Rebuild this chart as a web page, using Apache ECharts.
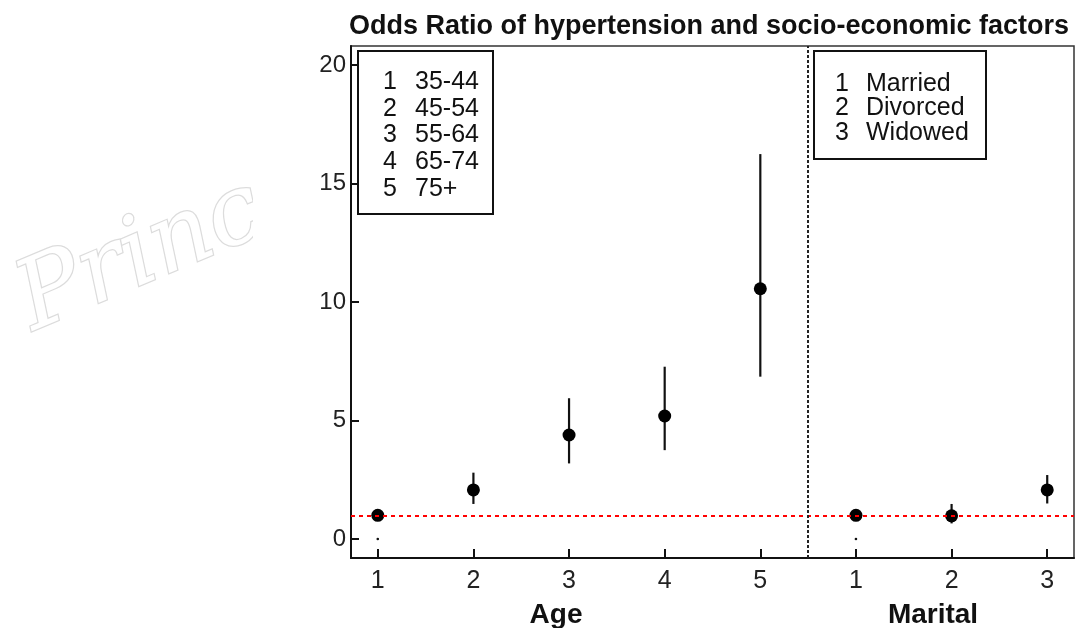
<!DOCTYPE html>
<html>
<head>
<meta charset="utf-8">
<script src="https://cdn.jsdelivr.net/npm/echarts@6/dist/echarts.min.js"></script>
<style>
  html, body { margin: 0; padding: 0; background: #fff; }
  #chart { width: 1081px; height: 628px; }
</style>
</head>
<body>
<div id="chart"></div>
<script>
// positions along x: 1-5 = Age groups, 6-8 = Marital status
const xPos = [1, 2, 3, 4, 5, 6, 7, 8];
const tickLabels = ['1', '2', '3', '4', '5', '1', '2', '3'];
const oddsRatio = [1, 2.07, 4.39, 5.19, 10.56, 1, 0.98, 2.07];
const ciLower = [0, 1.48, 3.19, 3.75, 6.85, 0, 0.66, 1.50];
const ciUpper = [0, 2.80, 5.94, 7.27, 16.24, 0, 1.48, 2.70];
const yTicks = [0, 5, 10, 15, 20];
const ageLegend = [['1', '35-44'], ['2', '45-54'], ['3', '55-64'], ['4', '65-74'], ['5', '75+']];
const maritalLegend = [['1', 'Married'], ['2', 'Divorced'], ['3', 'Widowed']];

const FONT = "'Liberation Sans', Arial, sans-serif";
const chart = echarts.init(document.getElementById('chart'));

function legendBox(x, y, w, h, rows, numX, txtX, firstY, step) {
  const children = [{
    type: 'rect',
    shape: { x: x, y: y, width: w, height: h },
    style: { fill: '#fff', stroke: '#111', lineWidth: 2 }
  }];
  rows.forEach((r, i) => {
    children.push({
      type: 'text', x: numX, y: firstY + i * step,
      style: { text: r[0], font: '25px ' + FONT, fill: '#111', align: 'right', verticalAlign: 'middle' }
    });
    children.push({
      type: 'text', x: txtX, y: firstY + i * step,
      style: { text: r[1], font: '25px ' + FONT, fill: '#111', align: 'left', verticalAlign: 'middle' }
    });
  });
  return { type: 'group', z: 100, children: children };
}

const option = {
  backgroundColor: '#fff',
  animation: false,
  title: {
    text: 'Odds Ratio of hypertension and socio-economic factors',
    left: 344, top: 8,
    textStyle: { fontFamily: FONT, fontWeight: 'bold', fontSize: 27, color: '#111' }
  },
  grid: {
    left: 351, right: 7, top: 46, bottom: 70,
    show: true, borderColor: '#333', borderWidth: 1.5, backgroundColor: 'transparent'
  },
  xAxis: {
    type: 'value', min: 0.72, max: 8.28,
    axisLine: { onZero: false, lineStyle: { color: '#111', width: 2 } },
    axisTick: { inside: true, length: 9, customValues: xPos, lineStyle: { color: '#111', width: 2 } },
    axisLabel: {
      customValues: xPos, margin: 11, fontFamily: FONT, fontSize: 25, color: '#222',
      formatter: v => tickLabels[Math.round(v) - 1]
    },
    splitLine: { show: false }
  },
  yAxis: {
    type: 'value', min: -0.8, max: 20.8,
    axisLine: { show: true, onZero: false, lineStyle: { color: '#111', width: 2 } },
    axisTick: { show: true, inside: true, length: 8, customValues: yTicks, lineStyle: { color: '#111', width: 2 } },
    axisLabel: { customValues: yTicks, margin: 5, fontFamily: FONT, fontSize: 24, color: '#222' },
    splitLine: { show: false }
  },
  graphic: [
    {
      type: 'text', x: 42, y: 352, rotation: 0.4, z: 1,
      style: {
        text: 'Princ', font: 'italic 96px "DejaVu Serif", serif',
        fill: '#fff', stroke: '#dcdcdc', lineWidth: 2.5, verticalAlign: 'bottom'
      }
    },
    { type: 'rect', z: 2, shape: { x: 253, y: 0, width: 52, height: 628 }, style: { fill: '#fff' } },
    legendBox(358, 51, 135, 163, ageLegend, 397, 415, 82, 26.8),
    legendBox(814, 51, 172, 108, maritalLegend, 849, 866, 84, 24.5),
    {
      type: 'text', x: 556, y: 615, z: 100,
      style: { text: 'Age', font: 'bold 28px ' + FONT, fill: '#111', align: 'center', verticalAlign: 'middle' }
    },
    {
      type: 'text', x: 933, y: 615, z: 100,
      style: { text: 'Marital', font: 'bold 28px ' + FONT, fill: '#111', align: 'center', verticalAlign: 'middle' }
    }
  ],
  series: [
    {
      type: 'custom',
      data: xPos.map((x, i) => [x, ciLower[i], ciUpper[i]]),
      renderItem: (params, api) => {
        const lo = api.coord([api.value(0), api.value(1)]);
        const hi = api.coord([api.value(0), api.value(2)]);
        if (api.value(1) === api.value(2)) {
          return { type: 'circle', shape: { cx: lo[0], cy: lo[1], r: 1.3 }, style: { fill: '#111' } };
        }
        return {
          type: 'line',
          shape: { x1: lo[0], y1: lo[1], x2: hi[0], y2: hi[1] },
          style: { stroke: '#111', lineWidth: 2.2 }
        };
      },
      z: 3
    },
    {
      type: 'scatter',
      data: xPos.map((x, i) => [x, oddsRatio[i]]),
      symbol: 'circle', symbolSize: 13,
      itemStyle: { color: '#000', opacity: 1 },
      z: 4,
      markLine: {
        silent: true, symbol: 'none', label: { show: false },
        data: [
          { yAxis: 1, lineStyle: { color: '#ff0000', width: 2.2, type: [4, 4], opacity: 1 } },
          { xAxis: 5.5, lineStyle: { color: '#222', width: 2, type: [3, 2], opacity: 1 } }
        ]
      }
    }
  ]
};

chart.setOption(option);
</script>
</body>
</html>
